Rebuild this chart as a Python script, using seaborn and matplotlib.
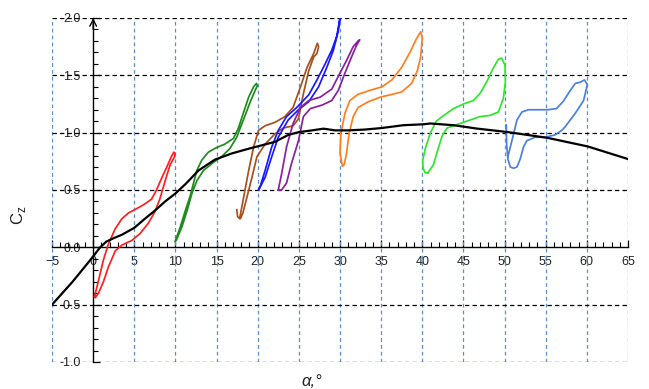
import matplotlib
matplotlib.use('Agg')
import matplotlib.pyplot as plt
import seaborn as sns
from matplotlib.ticker import MultipleLocator, FormatStrFormatter

# ---------------- data ----------------
static_alpha = [-5, -2.5, 0, 0.85, 1.6, 2.5, 3.5, 5, 6.3, 7.5, 8.75, 10, 11.2, 12.8, 14.8, 16.9, 18.9,
                20.5, 22.1, 23.7, 25, 26.6, 28, 29.4, 31, 33, 35, 37.7, 40.1, 41, 43.8, 46.6,
                50.3, 55.2, 60.1, 65]
static_cz = [-0.5, -0.3, -0.08, 0.0, 0.05, 0.08, 0.11, 0.17, 0.25, 0.32, 0.40, 0.47, 0.55, 0.67, 0.765,
             0.82, 0.86, 0.89, 0.92, 0.98, 1.005, 1.02, 1.035, 1.02, 1.02, 1.027, 1.04, 1.065, 1.073,
             1.08, 1.065, 1.036, 1.006, 0.955, 0.88, 0.77]

red_alpha = [0.2, 0.65, 1.25, 1.86, 2.67, 3.5, 4.3, 5.1, 6.1, 7.1, 7.7, 8.3, 8.95, 9.5, 9.8, 9.95,
             9.9, 9.36, 8.75, 8.1, 7.5, 6.7, 5.7, 4.7, 3.5, 2.7, 1.86, 1.25, 0.65, 0.25, 0.15, 0.2]
red_cz = [-0.42, -0.29, -0.11, 0.03, 0.16, 0.25, 0.30, 0.33, 0.37, 0.42, 0.50, 0.60, 0.70, 0.79, 0.83,
          0.82, 0.79, 0.72, 0.58, 0.42, 0.31, 0.21, 0.12, 0.06, 0.02, -0.03, -0.17, -0.30, -0.40,
          -0.44, -0.43, -0.42]

green_alpha = [9.95, 10.6, 11.2, 11.8, 12.2, 12.6, 13.2, 14.0, 15.0, 16.0, 17.05, 17.65, 18.25, 18.9,
               19.5, 19.85, 19.95, 19.7, 19.1, 18.25, 17.45, 16.6, 15.6, 14.6, 13.4, 12.6, 12.0,
               11.5, 10.8, 10.1]
green_cz = [0.05, 0.18, 0.32, 0.45, 0.56, 0.67, 0.76, 0.83, 0.87, 0.90, 0.95, 1.04, 1.17, 1.31, 1.40,
            1.43, 1.41, 1.37, 1.27, 1.11, 0.96, 0.86, 0.79, 0.74, 0.67, 0.58, 0.47, 0.34, 0.18, 0.06]

brown_alpha = [17.45, 17.55, 17.8, 18.3, 18.9, 19.5, 20.1, 20.9, 22.1, 23.3, 24.3, 25.2, 26.0, 26.8,
               27.25, 27.4, 27.2, 26.8, 26.2, 25.55, 24.95, 24.3, 23.1, 22.1, 20.9, 19.9, 19.3,
               18.7, 18.2, 17.9]
brown_cz = [0.33, 0.27, 0.25, 0.44, 0.67, 0.875, 1.02, 1.06, 1.09, 1.14, 1.22, 1.40, 1.57, 1.69, 1.78,
            1.75, 1.69, 1.66, 1.54, 1.34, 1.12, 1.06, 1.04, 0.99, 0.90, 0.79, 0.61, 0.44, 0.30, 0.25]

blue_alpha = [20.1, 20.9, 21.7, 22.5, 23.7, 24.95, 26.2, 27.4, 28.4, 29.2, 29.8, 30.0, 29.6, 29.0,
              28.2, 27.2, 26.2, 24.75, 23.5, 22.5, 21.7, 20.9, 20.3, 20.1]
blue_cz = [0.50, 0.61, 0.79, 0.96, 1.11, 1.20, 1.27, 1.40, 1.57, 1.72, 1.89, 2.0, 1.84, 1.72, 1.60,
           1.46, 1.33, 1.22, 1.14, 1.02, 0.875, 0.67, 0.53, 0.50]

purple_alpha = [22.5, 22.9, 23.5, 24.3, 25.2, 26.2, 27.6, 29.0, 30.0, 30.8, 31.6, 32.2, 32.4, 32.0,
                31.4, 30.6, 29.8, 29.0, 27.8, 26.4, 25.55, 24.95, 24.1, 23.5, 22.9, 22.5]
purple_cz = [0.50, 0.64, 0.875, 1.08, 1.22, 1.28, 1.31, 1.38, 1.52, 1.63, 1.75, 1.80, 1.81, 1.76,
             1.66, 1.52, 1.37, 1.28, 1.24, 1.21, 1.14, 0.93, 0.73, 0.56, 0.50, 0.50]

orange_alpha = [30.3, 30.0, 30.1, 30.6, 31.2, 32.2, 33.7, 35.1, 36.3, 37.5, 38.5, 39.3, 39.8, 40.0,
                39.8, 39.4, 38.7, 37.5, 36.1, 34.9, 33.45, 32.2, 31.6, 31.1, 30.8, 30.5, 30.3]
orange_cz = [0.71, 0.82, 0.99, 1.17, 1.28, 1.335, 1.37, 1.40, 1.46, 1.57, 1.70, 1.82, 1.88, 1.83,
             1.66, 1.54, 1.43, 1.355, 1.33, 1.31, 1.27, 1.22, 1.14, 0.99, 0.82, 0.72, 0.71]

lime_alpha = [40.7, 41.35, 41.8, 42.4, 43.0, 44.6, 45.8, 47.0, 48.2, 49.25, 49.85, 50.1, 50.05,
              49.65, 49.25, 48.6, 47.8, 47.0, 46.2, 45.0, 43.8, 42.6, 41.7, 41.0, 40.4, 40.05,
              40.1, 40.35, 40.7]
lime_cz = [0.65, 0.72, 0.83, 0.97, 1.04, 1.08, 1.11, 1.14, 1.15, 1.18, 1.30, 1.44, 1.59, 1.65, 1.64,
           1.56, 1.44, 1.34, 1.28, 1.25, 1.21, 1.15, 1.10, 1.0, 0.87, 0.76, 0.69, 0.65, 0.65]

sky_alpha = [50.2, 50.25, 50.4, 50.7, 51.1, 51.5, 51.9, 52.3, 52.7, 53.7, 54.9, 56.1, 56.95, 57.35,
             58.6, 59.6, 59.9, 60.05, 59.7, 59.2, 58.6, 58.0, 57.1, 56.3, 55.3, 54.1, 52.9, 52.1,
             51.5, 51.1, 50.7, 50.4]
sky_cz = [1.07, 0.90, 0.77, 0.70, 0.69, 0.70, 0.77, 0.875, 0.93, 0.96, 0.96, 0.98, 1.02, 1.05, 1.17,
          1.28, 1.37, 1.42, 1.46, 1.44, 1.43, 1.37, 1.27, 1.21, 1.20, 1.20, 1.20, 1.18, 1.11, 0.99,
          0.875, 0.79]

x_ticks = list(range(-5, 66, 5))
y_ticks = [-1.0, -0.5, 0.0, 0.5, 1.0, 1.5, 2.0]

loops = [
    (red_alpha, red_cz, '#ff1f1f'),
    (green_alpha, green_cz, '#1e8c1e'),
    (brown_alpha, brown_cz, '#a8501e'),
    (blue_alpha, blue_cz, '#1a1aff'),
    (purple_alpha, purple_cz, '#8b1fa0'),
    (orange_alpha, orange_cz, '#ff7f1f'),
    (lime_alpha, lime_cz, '#2ee62e'),
    (sky_alpha, sky_cz, '#4a7fe8'),
]

# ---------------- figure ----------------
sns.set_theme(style='white')
plt.rcParams['font.family'] = ['Liberation Sans', 'DejaVu Sans']

fig = plt.figure(figsize=(6.49, 3.89), dpi=100)
ax = fig.add_axes([52 / 649, 27 / 389, 576 / 649, 344 / 389])

for a, c, col in loops:
    sns.lineplot(x=a, y=c, sort=False, estimator=None, color=col, lw=1.25, ax=ax, zorder=3)
sns.lineplot(x=static_alpha, y=static_cz, sort=False, estimator=None, color='black', lw=1.6,
             ax=ax, zorder=4)

ax.set_xlim(-5, 65)
ax.set_ylim(-1.0, 2.0)

ax.set_xticks(x_ticks)
ax.set_yticks(y_ticks)
ax.xaxis.set_minor_locator(MultipleLocator(1))
ax.yaxis.set_minor_locator(MultipleLocator(0.1))
ax.yaxis.set_major_formatter(FormatStrFormatter('%.1f'))

# grid
for xv in x_ticks:
    if xv != 0:
        ax.axvline(xv, color='#5b8fd0', lw=0.9, ls=(0, (3, 2.5)), zorder=1)
for yv in y_ticks:
    if yv != 0:
        ax.axhline(yv, color='black', lw=0.9, ls=(0, (3.5, 2.5)), zorder=1)

# spines through origin
for s in ['top', 'right']:
    ax.spines[s].set_visible(False)
ax.spines['left'].set_position(('data', 0))
ax.spines['bottom'].set_position(('data', 0))
for s in ['left', 'bottom']:
    ax.spines[s].set_color('black')
    ax.spines[s].set_linewidth(1.0)
    ax.spines[s].set_zorder(2)

ax.tick_params(which='both', bottom=True, left=True, top=False, right=False)
ax.tick_params(which='major', direction='in', length=5, width=0.9, color='black',
               labelsize=9, labelcolor='#222222')
ax.tick_params(which='minor', direction='in', length=3.5, width=0.8, color='black')
ax.tick_params(axis='y', which='major', pad=9)
ax.tick_params(axis='x', which='major', pad=6)

ax.annotate('', xy=(0, 2.0), xytext=(0, 1.9),
            arrowprops=dict(arrowstyle='->', color='black', lw=1.0, shrinkA=0, shrinkB=0),
            annotation_clip=False)

ax.set_ylabel('C$_\\mathregular{z}$', fontsize=12, color='#222222')
ax.yaxis.set_label_coords(-0.042, 0.427)
ax.set_xlabel('α,°', fontsize=12, fontstyle='italic', color='#222222')
ax.xaxis.set_label_coords(0.451, -0.035)

fig.savefig('out.png', dpi=100)
